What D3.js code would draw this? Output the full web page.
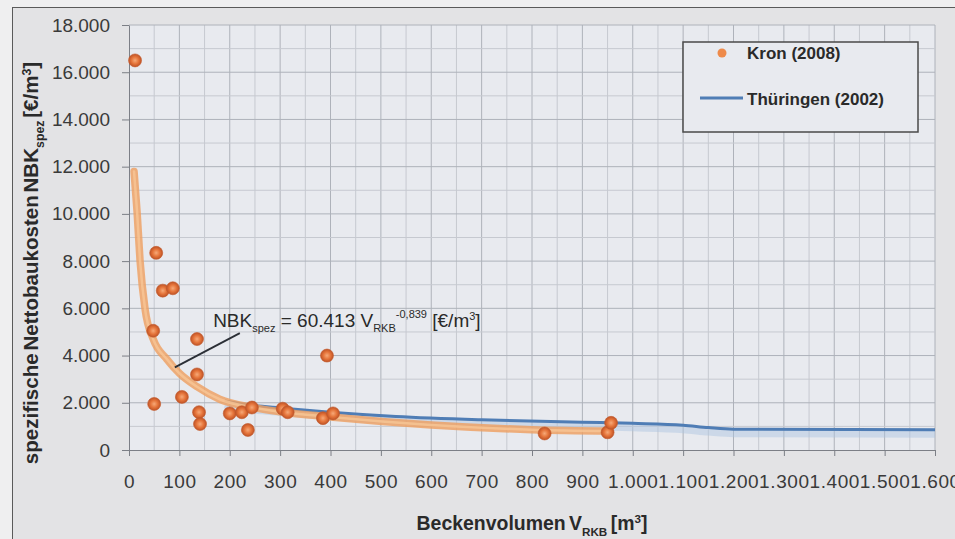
<!DOCTYPE html>
<html lang="de">
<head>
<meta charset="UTF-8">
<title>Nettobaukosten RKB</title>
<style>
  body { margin: 0; background: #efeff0; }
  svg { display: block; font-family: "Liberation Sans", Arial, sans-serif; }
</style>
</head>
<body>
<div id="chart"></div>
<script src="https://cdn.jsdelivr.net/npm/d3@7"></script>
<script>
// Kron (2008): volume [m³] and specific net construction cost [€/m³]
const kronVolume = [12, 54, 67, 87, 48, 135, 135, 105, 50, 139, 141, 200, 224, 244, 236, 305, 315, 385, 393, 405, 825, 950, 957];
const kronCost   = [16500, 8350, 6750, 6850, 5050, 4700, 3200, 2250, 1950, 1600, 1100, 1550, 1600, 1800, 850, 1750, 1600, 1350, 4000, 1550, 700, 750, 1150];

// power trend line of Kron
const fitVolume = [10, 16, 22, 32, 48, 75, 100, 135, 180, 246, 300, 400, 600, 800, 955];
const fitCost   = [11800, 10100, 8000, 5950, 4700, 3850, 3250, 2680, 2150, 1800, 1620, 1400, 1060, 860, 800];

// Thüringen (2002)
const thVolume = [190, 250, 300, 400, 530, 700, 900, 1000, 1100, 1150, 1200, 1600];
const thCost   = [2080, 1880, 1780, 1600, 1420, 1280, 1180, 1130, 1050, 950, 880, 860];

const xTicks = d3.range(0, 1601, 100);
const yTicks = d3.range(0, 18001, 2000);

// leader line of the formula annotation (data units)
const noteLine = [[91, 3500], [220, 4950]];
const notePos = [167, 5220];

const width = 955, height = 539;
const plot = {left: 129, right: 935, top: 25, bottom: 450};

const de = d3.formatLocale({decimal: ",", thousands: ".", grouping: [3], currency: ["", "€"]});
const fmt = de.format(",");

const svg = d3.select("#chart").append("svg")
  .attr("width", width).attr("height", height);

// chart frame
svg.append("rect")
  .attr("x", 12.5).attr("y", 7.5)
  .attr("width", width).attr("height", height)
  .attr("fill", "#e3e3e5").attr("stroke", "#5a5a5a");

const x = d3.scaleLinear().domain([0, 1600]).range([plot.left, plot.right]);
const y = d3.scaleLinear().domain([0, 18000]).range([plot.bottom, plot.top]);

svg.append("rect")
  .attr("x", plot.left).attr("y", plot.top)
  .attr("width", plot.right - plot.left).attr("height", plot.bottom - plot.top)
  .attr("fill", "#e8eaef");

// grid
const grid = svg.append("g");
grid.selectAll(".vg").data(d3.range(50, 1601, 50)).join("line")
  .attr("x1", d => x(d)).attr("x2", d => x(d))
  .attr("y1", plot.top).attr("y2", plot.bottom)
  .attr("stroke", d => d % 100 === 0 ? "#aeb2ba" : "#c6c9d0").attr("stroke-width", 1);
grid.selectAll(".hg").data(d3.range(1000, 18001, 1000)).join("line")
  .attr("x1", plot.left).attr("x2", plot.right)
  .attr("y1", d => y(d)).attr("y2", d => y(d))
  .attr("stroke", d => d % 2000 === 0 ? "#aeb2ba" : "#c6c9d0").attr("stroke-width", 1);

// axes
const xAxis = svg.append("g")
  .attr("transform", `translate(0,${plot.bottom})`)
  .call(d3.axisBottom(x).tickValues(xTicks).tickFormat(fmt).tickSize(6).tickPadding(19).tickSizeOuter(0));
const yAxis = svg.append("g")
  .attr("transform", `translate(${plot.left},0)`)
  .call(d3.axisLeft(y).tickValues(yTicks).tickFormat(fmt).tickSize(7).tickPadding(12).tickSizeOuter(0));
[xAxis, yAxis].forEach(a => {
  a.attr("font-family", null).attr("font-size", null);
  a.select(".domain").attr("stroke", "#7c7f86");
  a.selectAll(".tick line").attr("stroke", "#7c7f86");
  a.selectAll(".tick text").attr("fill", "#3a3a3a").style("font-size", "19px");
});
xAxis.selectAll(".tick text").style("letter-spacing", "0.6px");

// curves
const line = d3.line().curve(d3.curveMonotoneX);
const fitPts = fitVolume.map((v, i) => [x(v), y(fitCost[i])]);
const thPts = thVolume.map((v, i) => [x(v), y(thCost[i])]);

svg.append("path").attr("d", line(thPts))
  .attr("transform", "translate(0,4)")
  .attr("fill", "none").attr("stroke", "#aac3df").attr("stroke-width", 8).attr("opacity", 0.45);
svg.append("path").attr("d", line(thPts))
  .attr("fill", "none").attr("stroke", "#4f7db5").attr("stroke-width", 3);

svg.append("path").attr("d", line(fitPts))
  .attr("fill", "none").attr("stroke", "#eea062").attr("stroke-width", 7.5)
  .attr("stroke-linecap", "round").attr("opacity", 0.82);
svg.append("path").attr("d", line(fitPts))
  .attr("fill", "none").attr("stroke", "#f8c898").attr("stroke-width", 2.5)
  .attr("stroke-linecap", "round").attr("opacity", 0.75);

// points
const defs = svg.append("defs");
const grad = defs.append("radialGradient").attr("id", "dot");
grad.append("stop").attr("offset", "0%").attr("stop-color", "#f6a978");
grad.append("stop").attr("offset", "55%").attr("stop-color", "#e5743a");
grad.append("stop").attr("offset", "100%").attr("stop-color", "#bd5226");

svg.append("g").selectAll("circle")
  .data(kronVolume.map((v, i) => [v, kronCost[i]]))
  .join("circle")
  .attr("cx", d => x(d[0])).attr("cy", d => y(d[1]))
  .attr("r", 6.5).attr("fill", "url(#dot)")
  .attr("stroke", "#c45a2c").attr("stroke-opacity", 0.6).attr("stroke-width", 1);

// annotation
svg.append("line")
  .attr("x1", x(noteLine[0][0])).attr("y1", y(noteLine[0][1]))
  .attr("x2", x(noteLine[1][0])).attr("y2", y(noteLine[1][1]))
  .attr("stroke", "#2b2f36").attr("stroke-width", 1.8);

const note = svg.append("text")
  .attr("x", x(notePos[0])).attr("y", y(notePos[1]))
  .attr("fill", "#2a2a2a").style("font-size", "19px");
note.append("tspan").text("NBK");
note.append("tspan").text("spez").style("font-size", "11px").attr("dy", 5);
note.append("tspan").text(" = 60.413 V").attr("dy", -5);
note.append("tspan").text("RKB").style("font-size", "11px").attr("dy", 5);
note.append("tspan").text("-0,839").style("font-size", "11px").attr("dy", -14);
note.append("tspan").text(" [€/m").attr("dy", 9);
note.append("tspan").text("3").style("font-size", "11px").attr("dy", -7);
note.append("tspan").text("]").attr("dy", 7);

// axis titles, fitted to the measured span of the reference
function buildYLabel(fs) {
  svg.select("#ylab").remove();
  const t = svg.append("text").attr("id", "ylab")
    .attr("transform", "translate(38,263) rotate(-90)")
    .attr("text-anchor", "middle")
    .attr("fill", "#2a2a2a").style("font-weight", "bold").style("font-size", fs + "px")
    .style("word-spacing", "-3px");
  t.append("tspan").text("spezifische Nettobaukosten NBK");
  t.append("tspan").text("spez").style("font-size", (fs * 0.6) + "px").attr("dy", fs * 0.3);
  t.append("tspan").text(" [€/m").attr("dy", -fs * 0.3);
  t.append("tspan").text("3").style("font-size", (fs * 0.6) + "px").attr("dy", -fs * 0.35);
  t.append("tspan").text("]").attr("dy", fs * 0.35);
  return t;
}
let yl = buildYLabel(16);
yl = buildYLabel(16 * 400 / yl.node().getComputedTextLength());

function buildXLabel(fs) {
  svg.select("#xlab").remove();
  const t = svg.append("text").attr("id", "xlab")
    .attr("x", 532).attr("y", 530)
    .attr("text-anchor", "middle")
    .attr("fill", "#2a2a2a").style("font-weight", "bold").style("font-size", fs + "px")
    .style("word-spacing", "-2px");
  t.append("tspan").text("Beckenvolumen V");
  t.append("tspan").text("RKB").style("font-size", (fs * 0.6) + "px").attr("dy", fs * 0.3);
  t.append("tspan").text(" [m").attr("dy", -fs * 0.3);
  t.append("tspan").text("3").style("font-size", (fs * 0.6) + "px").attr("dy", -fs * 0.35);
  t.append("tspan").text("]").attr("dy", fs * 0.35);
  return t;
}
let xl = buildXLabel(16);
xl = buildXLabel(16 * 230 / xl.node().getComputedTextLength());

// legend
const lg = svg.append("g");
lg.append("rect")
  .attr("x", 683).attr("y", 42).attr("width", 235).attr("height", 90)
  .attr("fill", "#e8eaef").attr("stroke", "#4a4a4a").attr("stroke-width", 1.5);
lg.append("circle").attr("cx", 722).attr("cy", 53).attr("r", 4.5).attr("fill", "#ee8a4a");
lg.append("line").attr("x1", 700).attr("x2", 743).attr("y1", 98).attr("y2", 98)
  .attr("stroke", "#4f7db5").attr("stroke-width", 3);
lg.selectAll("text").data(["Kron (2008)", "Thüringen (2002)"]).join("text")
  .attr("x", 747).attr("y", (d, i) => i === 0 ? 53 : 99)
  .attr("dominant-baseline", "central")
  .attr("fill", "#2a2a2a").style("font-weight", "bold").style("font-size", "17px")
  .text(d => d);
</script>
</body>
</html>
